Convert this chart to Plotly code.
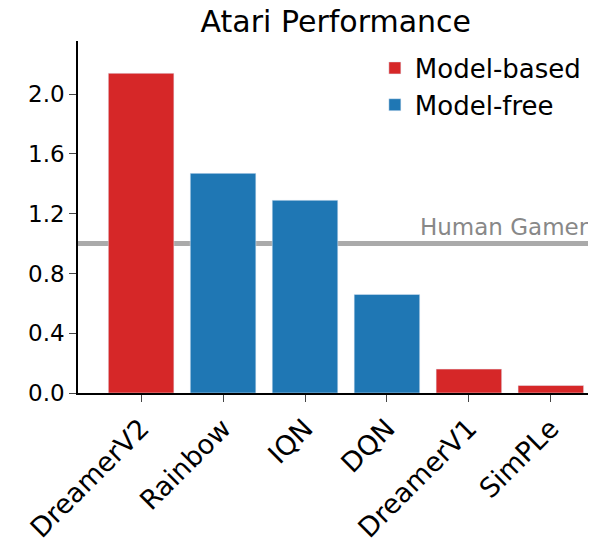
import plotly.graph_objects as go

methods = ['DreamerV2', 'Rainbow', 'IQN', 'DQN', 'DreamerV1', 'SimPLe']
scores = [2.14, 1.47, 1.29, 0.66, 0.16, 0.05]
kind = ['Model-based', 'Model-free', 'Model-free', 'Model-free', 'Model-based', 'Model-based']
human = 1.0
yticks = [0.0, 0.4, 0.8, 1.2, 1.6, 2.0]

colors = {'Model-based': '#d62728', 'Model-free': '#1f77b4'}

fig = go.Figure()
for k in ['Model-based', 'Model-free']:
    xs = [m for m, t in zip(methods, kind) if t == k]
    ys = [s for s, t in zip(scores, kind) if t == k]
    fig.add_trace(go.Bar(x=xs, y=ys, name=k, marker_color=colors[k], width=0.8))

fig.add_hline(y=human, line_color='#aaaaaa', line_width=5, layer='below')
fig.add_annotation(x=1, xref='paper', y=human, yref='y', text='Human Gamer',
                   showarrow=False, xanchor='right', yanchor='bottom', yshift=2,
                   font=dict(size=23, color='#888888'))

fig.update_layout(
    width=596, height=547,
    margin=dict(l=70, r=13, t=33, b=150),
    paper_bgcolor='white', plot_bgcolor='white',
    font=dict(family='DejaVu Sans', size=23, color='black'),
    title=dict(text='Atari Performance', x=0.55, xanchor='center', y=0.995, yanchor='top',
               font=dict(size=30)),
    barmode='overlay',
    legend=dict(x=0.99, y=0.99, xanchor='right', yanchor='top', font=dict(size=26),
                bgcolor='rgba(255,255,255,0.8)'),
    xaxis=dict(categoryorder='array', categoryarray=methods, range=[-0.77, 5.49],
               tickangle=-45, showline=True, linecolor='black', linewidth=1.5,
               ticks='outside', ticklen=7, tickfont=dict(size=27)),
    yaxis=dict(range=[0, 2.356], tickvals=yticks, ticktext=[f'{v:.1f}' for v in yticks],
               showline=True, linecolor='black', linewidth=1.5, showgrid=False,
               ticks='outside', ticklen=7, zeroline=False),
)
fig.write_html('out.html')
